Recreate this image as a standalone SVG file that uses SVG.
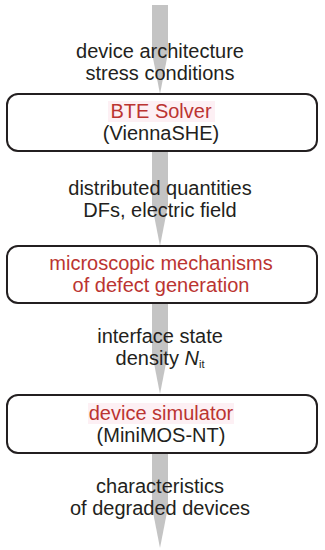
<svg xmlns="http://www.w3.org/2000/svg" width="325" height="550" viewBox="0 0 325 550">
  <style>
    .arrow { fill: #c4c4c4; }
    .box { fill: #ffffff; stroke: #231f20; stroke-width: 2; }
    .hl { fill: #fdf0f4; }
    text { font-family: "Liberation Sans", Arial, sans-serif; font-size: 20px; text-anchor: middle; fill: #231f20; }
    .red { fill: #bb3431; }
  </style>
  <rect width="325" height="550" fill="#ffffff"/>
  <g id="connectors">
    <polygon class="arrow" points="152,5 168,5 168,53 160,94 152,53"/>
    <polygon class="arrow" points="152,151 168,151 168,205 160,246 152,205"/>
    <polygon class="arrow" points="152,303 168,303 168,353 160,394 152,353"/>
    <polygon class="arrow" points="152,453 168,453 168,507 160,548 152,507"/>
  </g>
  <g id="label-input">
    <text x="160" y="58">device architecture</text>
    <text x="160" y="80">stress conditions</text>
  </g>
  <g id="node-bte">
    <rect class="box" x="7" y="94" width="310" height="57" rx="11"/>
    <rect class="hl" x="108" y="101" width="107" height="21"/>
    <text class="red" x="161" y="118">BTE Solver</text>
    <text x="161" y="140">(ViennaSHE)</text>
  </g>
  <g id="label-distributed">
    <text x="160" y="195">distributed quantities</text>
    <text x="160" y="217">DFs, electric field</text>
  </g>
  <g id="node-mechanisms">
    <rect class="box" x="7" y="246" width="310" height="57" rx="11"/>
    <text class="red" x="161" y="270">microscopic mechanisms</text>
    <text class="red" x="161" y="292">of defect generation</text>
  </g>
  <g id="label-interface">
    <text x="160" y="343">interface state</text>
    <text x="160" y="365">density <tspan font-style="italic">N</tspan><tspan font-size="11" dy="3">it</tspan></text>
  </g>
  <g id="node-simulator">
    <rect class="box" x="7" y="395" width="310" height="58" rx="11"/>
    <rect class="hl" x="88" y="403" width="146" height="21"/>
    <text class="red" x="161" y="420">device simulator</text>
    <text x="161" y="442">(MiniMOS-NT)</text>
  </g>
  <g id="label-output">
    <text x="160" y="493">characteristics</text>
    <text x="160" y="515">of degraded devices</text>
  </g>
</svg>
